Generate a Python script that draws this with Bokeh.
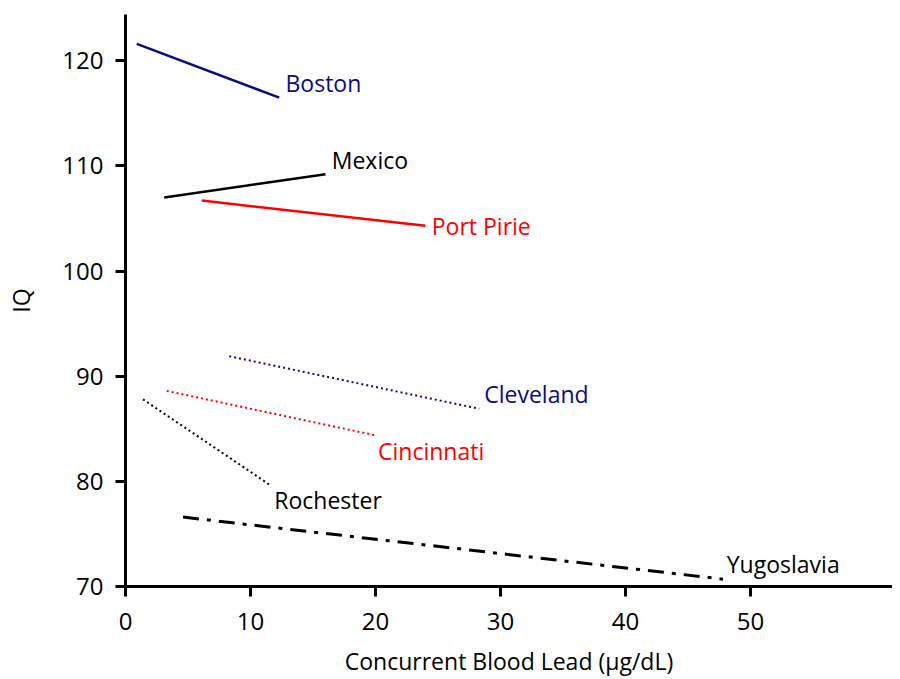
from bokeh.plotting import figure
from bokeh.models import Range1d, FixedTicker, ColumnDataSource
from bokeh.core.properties import value
from bokeh.embed import file_html
from bokeh.resources import INLINE

cities = ["Boston", "Mexico", "Port Pirie", "Cleveland", "Cincinnati", "Rochester", "Yugoslavia"]
lead_start = [0.9, 3.1, 6.1, 8.3, 3.3, 1.4, 4.6]
lead_end = [12.3, 16.0, 24.0, 28.3, 19.9, 11.5, 47.8]
iq_start = [121.6, 107.0, 106.7, 91.9, 88.6, 87.8, 76.6]
iq_end = [116.5, 109.2, 104.3, 86.9, 84.4, 79.7, 70.7]
label_x = [12.8, 16.5, 24.5, 28.7, 20.2, 11.9, 48.1]
label_y = [117.9, 110.6, 104.25, 88.3, 82.9, 78.2, 72.1]
colors = ["#0b0b85", "#000000", "#ff0000", "#0b0b85", "#ff0000", "#000000", "#000000"]
dashes = ["solid", "solid", "solid", "2 3", "2 3", "2 3", "16 8 4 8"]
widths = [2.5, 2.5, 2.5, 2, 2, 2, 3]

x_ticks = [0, 10, 20, 30, 40, 50]
y_ticks = [70, 80, 90, 100, 110, 120]

FONT = "Open Sans"

p = figure(width=892, height=679, output_backend="svg", toolbar_location=None,
           x_range=Range1d(0, 61.36), y_range=Range1d(70, 124.4),
           min_border_left=125, min_border_right=0, min_border_top=14, min_border_bottom=92)
p.outline_line_color = None
p.xgrid.visible = False
p.ygrid.visible = False

for i in range(len(cities)):
    p.line([lead_start[i], lead_end[i]], [iq_start[i], iq_end[i]],
           line_color=colors[i], line_width=widths[i], line_dash=dashes[i])

src = ColumnDataSource(dict(x=label_x, y=label_y, t=cities, c=colors))
p.text(x="x", y="y", text="t", text_color="c", source=src,
       text_font=value(FONT), text_font_size="23px", text_baseline="middle", text_align="left")

for ax in (p.xaxis[0], p.yaxis[0]):
    ax.axis_line_width = 3
    ax.axis_line_color = "black"
    ax.major_tick_line_width = 3
    ax.major_tick_out = 10
    ax.major_tick_in = 0
    ax.minor_tick_line_color = None
    ax.major_label_text_font = FONT
    ax.major_label_text_font_size = "24px"
    ax.major_label_text_color = "black"
    ax.axis_label_text_font = FONT
    ax.axis_label_text_font_size = "23px"
    ax.axis_label_text_font_style = "normal"
    ax.axis_label_text_color = "black"

p.xaxis[0].ticker = FixedTicker(ticks=x_ticks)
p.yaxis[0].ticker = FixedTicker(ticks=y_ticks)
p.xaxis[0].axis_label = "Concurrent Blood Lead (µg/dL)"
p.yaxis[0].axis_label = "IQ"
p.xaxis[0].major_label_standoff = 16
p.yaxis[0].major_label_standoff = 12
p.xaxis[0].axis_label_standoff = 12
p.yaxis[0].axis_label_standoff = 22

open("out.html", "w").write(file_html(p, INLINE))
